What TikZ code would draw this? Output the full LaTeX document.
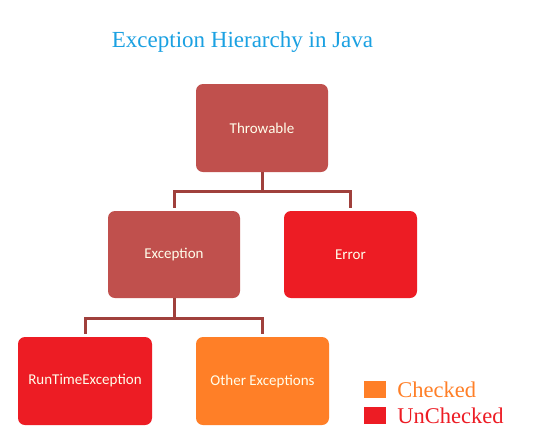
\documentclass[tikz,border=0pt]{standalone}
\usepackage{fontspec}
\setmainfont{Liberation Serif}
\newfontfamily\boxfont{Carlito}
\usetikzlibrary{calc,positioning}
\definecolor{titleblue}{HTML}{1BA1E2}
\definecolor{brickred}{HTML}{C0504D}
\definecolor{brightred}{HTML}{ED1C24}
\definecolor{checkorange}{HTML}{FF7F27}
\definecolor{linkred}{HTML}{A0403C}
\tikzset{
	classbox/.style={rounded corners=7pt, minimum width=132pt, minimum height=88pt, text=white!92!yellow, font=\boxfont\fontsize{15}{18}\selectfont, inner sep=0pt},
	link/.style={line width=3pt, color=linkred, shorten >=3pt},
	legendbox/.style={minimum width=22pt, minimum height=17pt, inner sep=0pt},
	legendtext/.style={font=\fontsize{22.5}{26}\selectfont, anchor=west, inner sep=0pt}
}

\begin{document}
\begin{tikzpicture}[x=1pt,y=-1pt]
			%%%%% START %%%%%
			
			\useasboundingbox[fill=white] (0, 0) rectangle (539, 440);
			
			\node[text=titleblue, font=\fontsize{23}{26}\selectfont] (title) at (242.5, 42) {Exception Hierarchy in Java};
			
			\node[classbox, fill=brickred] (throwable) at (262, 128) {Throwable};
			\node[classbox, fill=brickred, minimum height=87pt] (exception) at (174, 254.5) {Exception};
			\node[classbox, fill=brightred, minimum height=87pt, minimum width=133pt] (error) at (350.5, 254.5) {Error};
			\node[classbox, fill=brightred, minimum width=134pt] (runtime) at (85, 381) {RunTimeException};
			\node[classbox, fill=checkorange, minimum width=133pt] (other) at (262.5, 381) {Other Exceptions};
			
			\draw[link] (throwable.south) -- ++(0, 19) -| (exception.north);
			\draw[link] (throwable.south) -- ++(0, 19) -| (error.north);
			\draw[link] (exception.south) -- ++(0, 20) -| (runtime.north);
			\draw[link] (exception.south) -- ++(0, 20) -| (other.north);
			
			\node[legendbox, fill=checkorange] (checkedkey) at (375, 389.5) {};
			\node[legendtext, text=checkorange, right=11pt of checkedkey] (checkedlabel) {Checked};
			\node[legendbox, fill=brightred] (uncheckedkey) at (375, 415.5) {};
			\node[legendtext, text=brightred, right=11pt of uncheckedkey] (uncheckedlabel) {UnChecked};
			
			%%%%% END %%%%%
		\end{tikzpicture}
\end{document}
